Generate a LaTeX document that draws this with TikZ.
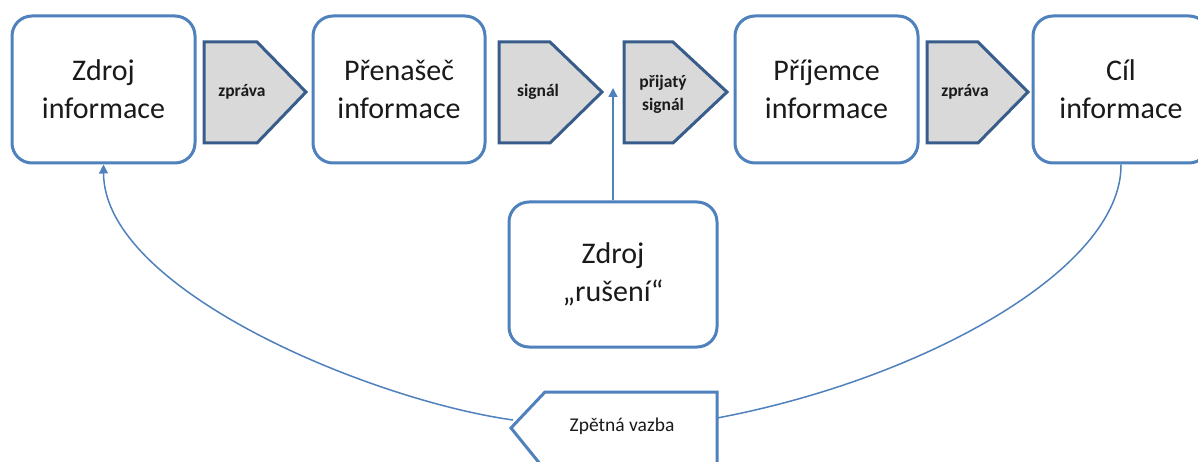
\documentclass[tikz,border=0pt]{standalone}
\usepackage{fontspec}
\setmainfont{Carlito}
\usetikzlibrary{arrows.meta}
\definecolor{boxblue}{HTML}{4F81BD}
\definecolor{tagedge}{HTML}{385D8A}
\definecolor{tagfill}{HTML}{D9D9D9}
\definecolor{ink}{HTML}{1A1A1A}
\tikzset{
  infobox/.style={draw=boxblue, line width=3pt, rounded corners=20pt, fill=white,
    text=ink, align=center, inner sep=0pt,
    font=\fontsize{30}{38}\selectfont},
  tag/.style={draw=tagedge, line width=3pt, fill=tagfill, line join=miter},
  taglabel/.style={text=ink, align=center, inner sep=0pt,
    font=\fontsize{17.5}{23}\selectfont\bfseries},
  link/.style={draw=boxblue, line width=1.5pt},
  tip/.style={-{Triangle[length=9pt,width=9pt]}}
}
\begin{document}
\begin{tikzpicture}[x=1pt,y=-1pt]
\useasboundingbox (0,0) rectangle (1198,462);
\clip (0,0) rectangle (1198,462);
\fill[white] (0,0) rectangle (1198,462);

% main chain of boxes
\node[infobox, minimum width=183pt, minimum height=147pt] (zdroj) at (103.5,89.5) {Zdroj\\informace};
\node[infobox, minimum width=172pt, minimum height=147pt] (prenasec) at (399,89.5) {Přenašeč\\informace};
\node[infobox, minimum width=183pt, minimum height=147pt] (prijemce) at (826.5,89.5) {Příjemce\\informace};
\node[infobox, minimum width=176pt, minimum height=147pt] (cil) at (1121,89.5) {Cíl\\informace};
\node[infobox, minimum width=208pt, minimum height=145pt] (ruseni) at (613,274.5) {Zdroj\\„rušení“};

% pentagon tags between the boxes
\draw[tag] (204,42) -- (257,42) -- (306,92) -- (257,143) -- (204,143) -- cycle;
\node[taglabel] (t1) at (242,92) {zpráva};
\draw[tag] (499,42) -- (550,42) -- (602,92) -- (550,143) -- (499,143) -- cycle;
\node[taglabel] (t2) at (538,92) {signál};
\draw[tag] (624,42) -- (673,42) -- (727,92) -- (673,143) -- (624,143) -- cycle;
\node[taglabel] (t3) at (663,94) {přijatý\\signál};
\draw[tag] (927,42) -- (978,42) -- (1028,92) -- (978,143) -- (927,143) -- cycle;
\node[taglabel] (t4) at (965,92) {zpráva};

% feedback tag
\draw[draw=boxblue, line width=3pt, fill=white, line join=miter]
  (511,428) -- (545,392) -- (717,392) -- (717,470) -- (545,470) -- cycle;
\node[text=ink, inner sep=0pt, font=\fontsize{19.5}{23}\selectfont] (fb) at (622,426) {Zpětná vazba};
\coordinate (fbL) at (513,420);
\coordinate (fbR) at (717,418);
\coordinate (noise) at (613,88);

% connectors
\draw[link, tip] (ruseni.north) -- (noise);
\draw[link] (cil.south) .. controls (1122,270) and (920,380) .. (fbR);
\draw[link, tip] (fbL) .. controls (370,400) and (104,290) .. (zdroj.south);
\end{tikzpicture}
\end{document}
